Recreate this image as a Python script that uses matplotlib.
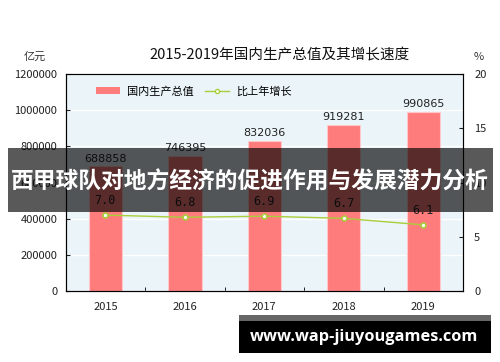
import matplotlib.pyplot as plt
from matplotlib.patches import Rectangle
from matplotlib.lines import Line2D
from matplotlib.patches import Patch

plt.rcParams['font.family'] = ['Noto Sans CJK SC', 'DejaVu Sans']

years = ["2015", "2016", "2017", "2018", "2019"]
gdp = [688858, 746395, 832036, 919281, 990865]
growth = [7.0, 6.8, 6.9, 6.7, 6.1]
growth_labels = ["7.0", "6.8", "6.9", "6.7", "6.1"]

bar_color = '#ff7c7c'
line_color = '#a8cf3a'

fig = plt.figure(figsize=(5, 3.62), dpi=100)
ax = fig.add_axes([0.1314, 0.196, 0.7946, 0.5994])
ax.set_facecolor('#ebf5f9')

x = list(range(len(years)))
ax.bar(x, gdp, width=0.42, color=bar_color, edgecolor='#ffc8cc', linewidth=0.8, zorder=2)
ax.set_xlim(-0.5, 4.5)
ax.set_ylim(0, 1200000)
ax.set_yticks([0, 200000, 400000, 600000, 800000, 1000000, 1200000])
ax.set_yticklabels(["0", "200000", "400000", "600000", "800000", "1000000", "1200000"])
ax.yaxis.grid(True, color='white', linewidth=1.0, zorder=0)
ax.set_axisbelow(True)
ax.set_xticks(x)
ax.set_xticklabels(years)
ax.set_xticks([0.5, 1.5, 2.5, 3.5], minor=True)
ax.tick_params(axis='x', which='major', length=0, pad=8, labelsize=8, colors='#222222')
ax.tick_params(axis='x', which='minor', length=3, direction='in')
ax.tick_params(axis='y', length=3, direction='in', labelsize=8, pad=6, colors='#222222')
for s in ['left', 'bottom']:
    ax.spines[s].set_color('#111111')
for s in ['top', 'right']:
    ax.spines[s].set_color('#666666')
    ax.spines[s].set_linewidth(0.8)

for xi, v in zip(x, gdp):
    ax.text(xi, v + 15000, str(v), ha='center', va='bottom', fontsize=8, color='#222222',
            family='DejaVu Sans', zorder=3)

ax2 = ax.twinx()
ax2.set_ylim(0, 20)
ax2.set_yticks([0, 5, 10, 15, 20])
ax2.tick_params(axis='y', length=3, direction='in', labelsize=8, pad=8, colors='#222222')
ax2.plot(x, growth, color=line_color, linewidth=1.0, marker='o', markersize=3.5,
         markerfacecolor='white', markeredgecolor=line_color, markeredgewidth=1.2, zorder=4)
for xi, v, lab in zip(x, growth, growth_labels):
    ax2.text(xi, v + 0.75, lab, ha='center', va='bottom', fontsize=8.5, color='#222222',
             family='DejaVu Sans Mono')

handles = [Patch(facecolor=bar_color, edgecolor='none'),
           Line2D([0], [0], color=line_color, marker='o', markersize=3, markerfacecolor='white',
                  markeredgecolor=line_color, linewidth=1.0)]
leg = ax.legend(handles, ["国内生产总值", "比上年增长"], loc='upper left', ncol=2, frameon=False,
                fontsize=8, bbox_to_anchor=(0.05, 0.99), handlelength=2.2, handleheight=0.6,
                columnspacing=1.0, handletextpad=0.6)

fig.text(0.56, 0.848, "2015-2019年国内生产总值及其增长速度", ha='center', va='center',
         fontsize=10.5, color='#111111')
fig.text(0.07, 0.843, "亿元", ha='center', va='center', fontsize=8, color='#333333')
fig.text(0.958, 0.843, "%", ha='center', va='center', fontsize=8, color='#333333')

# overlay banner
fig.patches.append(Rectangle((0.016, 0.414), 0.97, 0.177, transform=fig.transFigure,
                             facecolor='black', alpha=0.65, edgecolor='none', zorder=10))
fig.text(0.5, 0.497, "西甲球队对地方经济的促进作用与发展潜力分析", ha='center', va='center',
         fontsize=16.4, fontweight='bold', color='white', zorder=11)

# watermark box
fig.patches.append(Rectangle((0.478, 0.111), 0.504, 0.019, transform=fig.transFigure,
                             facecolor='#666666', edgecolor='none', zorder=10))
fig.patches.append(Rectangle((0.478, 0.025), 0.504, 0.088, transform=fig.transFigure,
                             facecolor='black', edgecolor='none', zorder=10))
fig.text(0.728, 0.068, "www.wap-jiuyougames.com", ha='center', va='center', fontsize=11.8,
         fontweight='bold', color='white', family='Open Sans', zorder=11)

fig.savefig('out.png', dpi=100)
